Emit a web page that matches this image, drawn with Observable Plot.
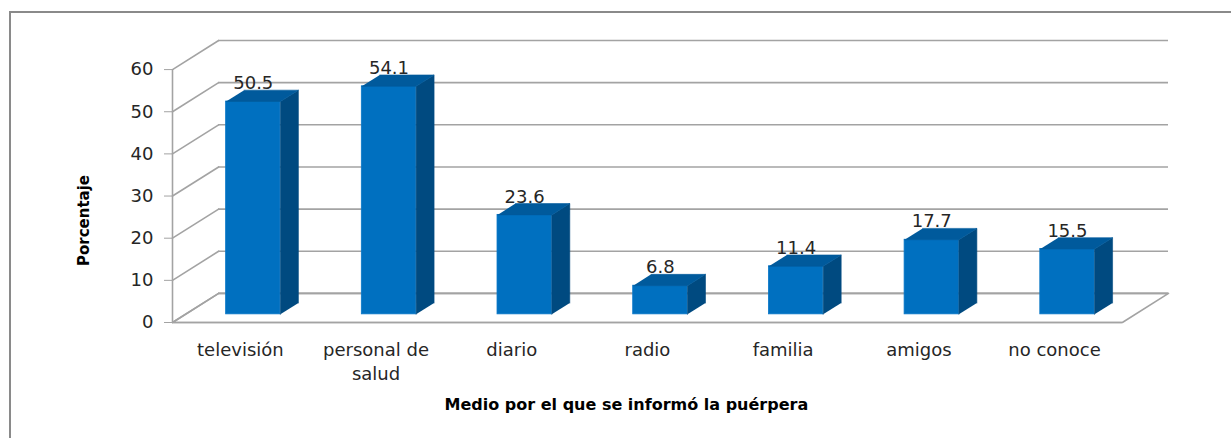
<!DOCTYPE html>
<html>
<head>
<meta charset="utf-8">
<script src="https://cdn.jsdelivr.net/npm/d3@7"></script>
<script src="https://cdn.jsdelivr.net/npm/@observablehq/plot@0.6"></script>
<style>
  html, body { margin: 0; padding: 0; background: #fff; }
  #wrap { position: relative; width: 1231px; height: 438px; overflow: hidden; }
  #frame { position: absolute; left: 9px; top: 11px; width: 1300px; height: 500px;
           border-top: 2.5px solid #8a8a8a; border-left: 2.5px solid #8a8a8a; }
  #chart { position: absolute; left: 0; top: 0; }
</style>
</head>
<body>
<div id="wrap">
  <div id="frame"></div>
  <div id="chart"></div>
</div>
<script>
// ---- data ----
const categories = ["televisión", "personal de\nsalud", "diario", "radio", "familia", "amigos", "no conoce"];
const values = [50.5, 54.1, 23.6, 6.8, 11.4, 17.7, 15.5];
const yTicks = [0, 10, 20, 30, 40, 50, 60];
const yTitle = "Porcentaje";
const xTitle = "Medio por el que se informó la puérpera";

// ---- 3D oblique projection parameters (data units) ----
const N = categories.length;
const KX = 0.34;   // depth shift along x for full depth
const KY = 6.9;    // depth shift along y for full depth
const Z1 = 0.28, Z2 = 0.67; // bar front/back depth fractions
const HALF = 0.2;  // half width of bar front face

const rows = categories.map((c, i) => ({c, i, v: values[i]}));

const grid = yTicks.map(t => ({t}));
const diag = yTicks.flatMap(t => [{t, x: 0, y: t}, {t, x: KX, y: t + KY}]);
const floorPts = [{x: 0, y: 0}, {x: N, y: 0}, {x: N + KX, y: KY}, {x: KX, y: KY}, {x: 0, y: 0}];

const sideFaces = rows.flatMap(d => {
  const xr = d.i + 0.5 + HALF;
  return [
    {k: d.i, x: xr + Z1 * KX, y: Z1 * KY},
    {k: d.i, x: xr + Z1 * KX, y: d.v + Z1 * KY},
    {k: d.i, x: xr + Z2 * KX, y: d.v + Z2 * KY},
    {k: d.i, x: xr + Z2 * KX, y: Z2 * KY}
  ];
});
const topFaces = rows.flatMap(d => {
  const xl = d.i + 0.5 - HALF, xr = d.i + 0.5 + HALF;
  return [
    {k: d.i, x: xl + Z1 * KX, y: d.v + Z1 * KY},
    {k: d.i, x: xr + Z1 * KX, y: d.v + Z1 * KY},
    {k: d.i, x: xr + Z2 * KX, y: d.v + Z2 * KY},
    {k: d.i, x: xl + Z2 * KX, y: d.v + Z2 * KY}
  ];
});

const gridColor = "#a3a3a3";
const font = "'DejaVu Sans', sans-serif";

const chart = Plot.plot({
  width: 1231,
  height: 438,
  marginLeft: 172,
  marginRight: 63,
  marginTop: 40,
  marginBottom: 116,
  style: {fontFamily: font, background: "transparent", overflow: "visible"},
  x: {domain: [0, N + KX], axis: null},
  y: {domain: [0, 60 + KY], axis: null},
  marks: [
    Plot.ruleY(grid, {y: d => d.t + KY, x1: KX, x2: N + KX, stroke: gridColor, strokeWidth: 1.6}),
    Plot.line(diag, {x: "x", y: "y", z: "t", stroke: gridColor, strokeWidth: 1.6}),
    Plot.line(floorPts, {x: "x", y: "y", stroke: gridColor, strokeWidth: 1.6}),
    Plot.ruleX([0], {y1: 0, y2: 60, stroke: gridColor, strokeWidth: 1.6}),
    Plot.ruleY([0], {x1: 0, x2: N, stroke: gridColor, strokeWidth: 1.6}),
    Plot.axisY({ticks: yTicks, x: 0, anchor: "left", tickSize: 8, tickPadding: 11, stroke: gridColor,
                fontSize: 18, fill: "#262626", label: null, tickFormat: d => String(d)}),
    Plot.rect(rows, {
      x1: d => d.i + 0.5 - HALF + Z1 * KX, x2: d => d.i + 0.5 + HALF + Z1 * KX,
      y1: Z1 * KY, y2: d => d.v + Z1 * KY,
      fill: "#0070c0", stroke: "#0a78c8", strokeWidth: 0.8
    }),
    Plot.line(sideFaces, {x: "x", y: "y", z: "k", fill: "#004a80", stroke: "#004a80", strokeWidth: 0.6}),
    Plot.line(topFaces, {x: "x", y: "y", z: "k", fill: "#005a9c", stroke: "#005a9c", strokeWidth: 0.6}),
    Plot.text(rows, {
      x: d => d.i + 0.5 + Z1 * KX, y: d => d.v + Z2 * KY, text: d => d.v.toFixed(1),
      lineAnchor: "bottom", dy: -1, fontSize: 18, fill: "#262626"
    }),
    Plot.text(rows, {
      x: d => d.i + 0.5, y: 0, text: "c", lineAnchor: "top", dy: 17, fontSize: 18,
      lineHeight: 1.3, fill: "#262626"
    }),
    Plot.text([yTitle], {
      frameAnchor: "left", textAnchor: "middle", dx: -88, dy: 39, rotate: -90, text: d => d, fontSize: 15,
      fontWeight: "bold", fill: "#000"
    }),
    Plot.text([xTitle], {
      frameAnchor: "bottom", dy: 87, x: 3.345, text: d => d, fontSize: 16,
      fontWeight: "bold", fill: "#000"
    })
  ]
});
document.getElementById("chart").appendChild(chart);
</script>
</body>
</html>
